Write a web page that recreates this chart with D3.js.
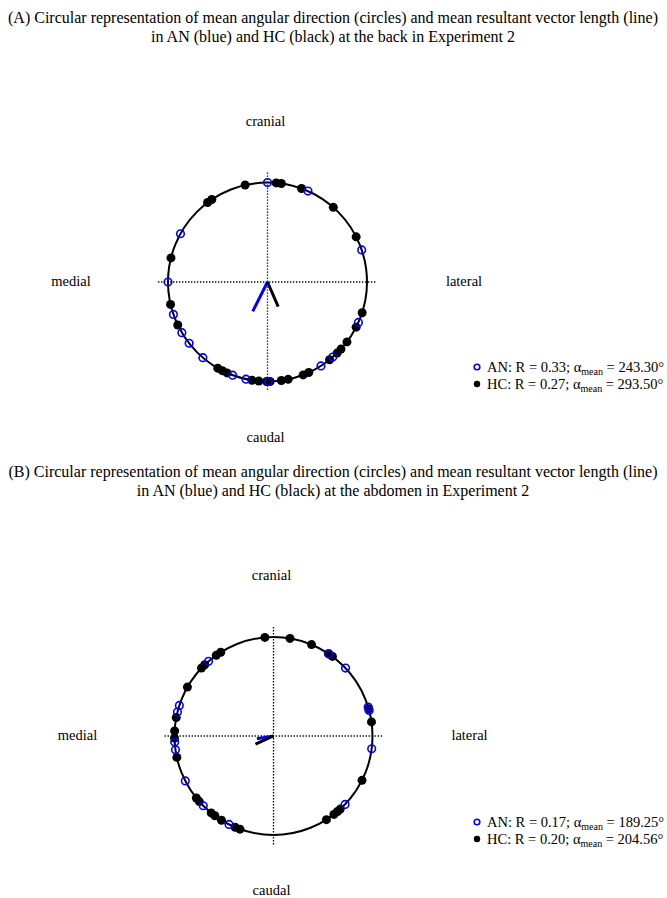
<!DOCTYPE html>
<html>
  <head>
    <meta charset="utf-8">
    <title>Circular representation AN / HC</title>
    <style>
      body { margin: 0; background: #fff; }
      text { font-family: "Liberation Serif", "Times New Roman", serif; font-size: 14.5px; fill: #000; }
      text.title { font-size: 16px; }
    </style>
  </head>
  <body>
    <div id="vis"></div>
    <script src="https://d3js.org/d3.v7.min.js"></script>
    <script>
    // angles in degrees, 0 = lateral, counter-clockwise, 90 = cranial
    let backAN = [18.8, 66, 90, 151, 180, 199, 210.6, 218, 229.5, 249.5, 257.5, 270.5, 302.5, 311, 336];
    let backHC = [27, 48.6, 70, 82, 85, 103, 124, 127, 166, 193, 205.6, 240, 243, 246, 261, 265, 269.5, 271.5,
                  278, 282, 291, 294.5, 308.6, 314.4, 317.6, 323, 333, 342];
    let abdAN = [15, 17, 43.3, 56, 131, 162, 166, 183.5, 188, 207, 224.8, 243.3, 316.3, 352.6];
    let abdHC = [8.2, 16, 53.5, 56.3, 67.4, 80.4, 95, 122.2, 125.3, 134, 136.7, 150.4, 169.3, 177.1, 181.2,
                 192.5, 218.8, 221.5, 231, 233.7, 238.3, 247.2, 250.2, 302.3, 307.6, 310.3, 312.4, 333.4];

    let backMean = [{grp: "AN", r: 0.33, a: 243.30}, {grp: "HC", r: 0.27, a: 293.50}];
    let abdMean = [{grp: "AN", r: 0.17, a: 189.25}, {grp: "HC", r: 0.20, a: 204.56}];

    let titlesA = ["(A) Circular representation of mean angular direction (circles) and mean resultant vector length (line)",
                   "in AN (blue) and HC (black) at the back in Experiment 2"];
    let titlesB = ["(B) Circular representation of mean angular direction (circles) and mean resultant vector length (line)",
                   "in AN (blue) and HC (black) at the abdomen in Experiment 2"];
    let dirLabels = ["cranial", "medial", "lateral", "caudal"];

    let w = 667, h = 898;
    let blue = "#0000ff";

    let svg = d3.select("#vis").append("svg")
                .attr("width", w)
                .attr("height", h);

    function panel(top, cx, cy, R, titles, an, hc, means) {
      let g = svg.append("g");

      // titles
      titles.forEach(function(t, i) {
        g.append("text").attr("class", "title").attr("x", 333).attr("y", top + i * 19)
         .attr("text-anchor", "middle").text(t);
      });

      let x = d3.scaleLinear().domain([-1, 1]).range([cx - R, cx + R]);
      let y = d3.scaleLinear().domain([-1, 1]).range([cy + R, cy - R]);
      let rad = function(a) { return a * Math.PI / 180; };

      // direction labels
      g.append("text").attr("x", cx - 2).attr("y", y(1) - 57).attr("text-anchor", "middle").text(dirLabels[0]);
      g.append("text").attr("x", x(-1) - 97).attr("y", cy + 4).attr("text-anchor", "middle").text(dirLabels[1]);
      g.append("text").attr("x", x(1) + 97).attr("y", cy + 4).attr("text-anchor", "middle").text(dirLabels[2]);
      g.append("text").attr("x", cx - 2).attr("y", y(-1) + 60).attr("text-anchor", "middle").text(dirLabels[3]);

      // dotted axes
      g.append("line").attr("x1", x(-1.1)).attr("x2", x(1.1)).attr("y1", cy).attr("y2", cy)
       .style("stroke", "#000").style("stroke-width", 1.3).style("stroke-dasharray", "1.3,1.7");
      g.append("line").attr("x1", cx).attr("x2", cx).attr("y1", y(1.1)).attr("y2", y(-1.1))
       .style("stroke", "#000").style("stroke-width", 1.3).style("stroke-dasharray", "1.3,1.7");

      // unit circle
      g.append("circle").attr("cx", cx).attr("cy", cy).attr("r", R)
       .style("fill", "none").style("stroke", "#000").style("stroke-width", 2);

      // mean resultant vectors
      g.selectAll("line.mean").data(means).enter().append("line")
       .attr("class", "mean")
       .attr("x1", x(0)).attr("y1", y(0))
       .attr("x2", function(d) { return x(d.r * Math.cos(rad(d.a))); })
       .attr("y2", function(d) { return y(d.r * Math.sin(rad(d.a))); })
       .style("stroke", function(d) { return d.grp == "AN" ? blue : "#000"; })
       .style("stroke-width", 3);

      // HC points (filled black)
      g.selectAll("circle.hc").data(hc).enter().append("circle")
       .attr("class", "hc")
       .attr("cx", function(d) { return x(Math.cos(rad(d))); })
       .attr("cy", function(d) { return y(Math.sin(rad(d))); })
       .attr("r", 4.5)
       .style("fill", "#000");

      // AN points (open blue)
      g.selectAll("circle.an").data(an).enter().append("circle")
       .attr("class", "an")
       .attr("cx", function(d) { return x(Math.cos(rad(d))); })
       .attr("cy", function(d) { return y(Math.sin(rad(d))); })
       .attr("r", 3.8)
       .style("fill", "none").style("stroke", blue).style("stroke-width", 1.6);
    }

    function legend(ly, means) {
      let g = svg.append("g");
      means.forEach(function(d, i) {
        let yy = ly + i * 17;
        if (d.grp == "AN") {
          g.append("circle").attr("cx", 477).attr("cy", yy - 5).attr("r", 2.8)
           .style("fill", "none").style("stroke", blue).style("stroke-width", 1.6);
        } else {
          g.append("circle").attr("cx", 477).attr("cy", yy - 5).attr("r", 3.2).style("fill", "#000");
        }
        let t = g.append("text").attr("x", 487).attr("y", yy);
        t.append("tspan").text(d.grp + ": R = " + d.r.toFixed(2) + "; \u03b1");
        t.append("tspan").attr("dy", 3).style("font-size", "10px").text("mean");
        t.append("tspan").attr("dy", -3).text(" = " + d.a.toFixed(2) + "\u00b0");
      });
    }

    panel(23, 267.5, 282, 99.5, titlesA, backAN, backHC, backMean);
    legend(372, backMean);
    panel(477, 273.5, 736, 99, titlesB, abdAN, abdHC, abdMean);
    legend(827, abdMean);
    </script>
  </body>
</html>
